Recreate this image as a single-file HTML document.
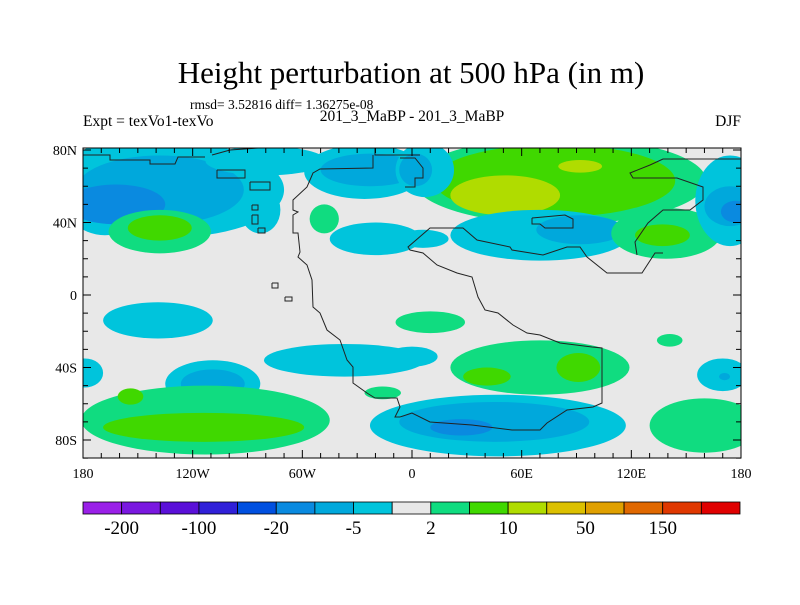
<!DOCTYPE html>
<html><head><meta charset="utf-8"><style>
body{margin:0;background:#fff;}
svg text{font-family:"Liberation Serif",serif;fill:#000;}
</style></head><body>
<svg width="800" height="600" viewBox="0 0 800 600" xmlns="http://www.w3.org/2000/svg">
<text x="411" y="83" font-size="31" text-anchor="middle">Height perturbation at 500 hPa (in m)</text>
<text x="190" y="109" font-size="13.5">rmsd= 3.52816 diff= 1.36275e-08</text>
<text x="83" y="126" font-size="15.5">Expt = texVo1-texVo</text>
<text x="412" y="121" font-size="15.5" text-anchor="middle">201_3_MaBP - 201_3_MaBP</text>
<text x="741" y="126" font-size="15.5" text-anchor="end">DJF</text>
<defs><clipPath id="mapclip"><rect x="83" y="148" width="658" height="310"/></clipPath></defs>
<rect x="83" y="148" width="658" height="310" fill="#e8e8e8"/>
<g id="fills" clip-path="url(#mapclip)"></g>
<g id="coast" clip-path="url(#mapclip)"></g>
<rect x="83" y="148" width="658" height="310" fill="none" stroke="#000" stroke-width="1"/>
<g id="ticks"></g>
<g id="cbar"></g>
</svg>
<script>
const NS="http://www.w3.org/2000/svg";
const levels=[-200,-150,-100,-50,-20,-10,-5,-2,2,5,10,20,50,100,150,200];
const colors=["#9a20e8","#7a18e0","#5a10d8","#3020d8","#0050e0","#0a8ae0","#00a8dc","#00c4dc","#e8e8e8","#10dc80","#40d800","#b0dc00","#dcc000","#e0a000","#e06800","#e03800","#e00000"];
const levelLabels=["-200","","-100","","-20","","-5","","2","","10","","50","","150",""];
// blobs: center lon, center lat, half-width lon, half-height lat, value (m)
const blobLon=[-130,-168,-138,-162,-138,-138,-80,-26,-23,-83,-48,-20,-139,-37,-109,-109,-179,-113,-114,-154,-16,81,78,51,92,7,2,70,92,6,139,137,174,174,177,10,141,0,70,91,41,170,171,47,45,27,160];
const blobLat=[58,58,58,50,35,37,74,68,69,47,42,31,-14,-36,-49,-49,-43,-69,-73,-56,-54,63,63,55,71,69,69,33,36,31,34,33,52,49,46,-15,-25,-34,-40,-40,-45,-44,-45,-72,-70,-73,-72];
const blobRLon=[60,25,46,27,28,17.5,33,33,27,11,8,25,30,44,26,17.5,10,68,55,7,10,80,66,30,12,16,9,49,24,14,30,15,19,14,8,19,7,14,49,12,13,14,3,70,52,17,30];
const blobRLat=[26,25,19,11,12,7,8,15,9,13,8,9,10,9,13,8,8,19,8,4.5,3.5,24,20,11,3.5,15,9,14,8,5,14,6,25,11,6,6,3.5,5.5,15,8,5,9,2,17,11,4.5,15];
const blobVal=[-3,-3,-7,-15,3,7,-3,-3,-7,-3,3,-3,-3,-3,-3,-7,-3,3,7,7,3,3,7,15,15,-3,-7,-3,-7,-3,3,7,-3,-7,-15,3,3,-3,3,7,7,-3,-7,-3,-7,-15,3];
const xTicksLon=[-180,-120,-60,0,60,120,180];
const xTickLabels=["180","120W","60W","0","60E","120E","180"];
const yTicksLat=[80,40,0,-40,-80];
const yTickLabels=["80N","40N","0","40S","80S"];
const X0=83,X1=741,LAT0=295,PPD=1.8125;
function x(lon){return X0+(lon+180)/360*(X1-X0);}
function y(lat){return LAT0-lat*PPD;}
function colorFor(v){let i=0;while(i<levels.length&&v>levels[i])i++;return colors[i];}
function mk(tag,attrs,parent){const e=document.createElementNS(NS,tag);for(const k in attrs)e.setAttribute(k,attrs[k]);parent.appendChild(e);return e;}
const fills=document.getElementById('fills');
for(let i=0;i<blobLon.length;i++){
  const e=mk('ellipse',{cx:x(blobLon[i]),cy:y(blobLat[i]),rx:blobRLon[i]*(X1-X0)/360,ry:blobRLat[i]*PPD,fill:colorFor(blobVal[i])},fills);
  
  
}
const coastLines=[
"83,155 110,155 110,160 150,160 150,164 175,164 178,157 205,157",
"212,155 230,150 258,148 353,148 353,146 375,146 375,155 420,155",
"373,155 373,168 320,169 313,173 307,187 293,200 293,210 298,212 293,215 293,233 298,233 300,252 298,257 307,265 312,280 313,307 320,313 327,330 340,340 347,360 353,367 353,383 367,393 375,398 397,398 400,407 395,417 400,417",
"400,417 412,413 430,422 472,425 512,430 540,430 547,423 567,410 593,407 602,403 602,348 592,347 560,343 540,335 527,333 513,325 498,313 485,310 478,297 472,277 457,273 437,265 423,253 410,250 408,247 430,228 463,228 477,240 510,247 512,250 543,255 567,247 580,247 587,257 607,273 642,273 655,253 663,253",
"637,255 635,242 648,223 663,210 690,210 703,200 703,187 677,178 633,178 630,173 650,165 663,159 743,159",
"400,158 415,158 423,168 423,178 415,178 415,187 405,187",
"532,218 565,215 573,219 573,228 545,228 540,224 532,224 532,218",
"252,205 258,205 258,210 252,210 252,205","252,215 258,215 258,224 252,224 252,215","258,228 265,228 265,233 258,233 258,228",
"272,283 278,283 278,288 272,288 272,283","285,297 292,297 292,301 285,301 285,297",
"217,170 245,170 245,178 217,178 217,170","250,182 270,182 270,190 250,190 250,182"
];
const coast=document.getElementById('coast');
coastLines.forEach(p=>{const e=mk('polyline',{points:p,fill:'none',stroke:'#222','stroke-width':1},coast);

});
const tk=document.getElementById('ticks');
for(let lon=-180;lon<=180;lon+=10){const L=(lon%60===0)?8:5;
 mk('line',{x1:x(lon),x2:x(lon),y1:458,y2:458-L,stroke:'#000'},tk);
 mk('line',{x1:x(lon),x2:x(lon),y1:148,y2:148+L,stroke:'#000'},tk);}
for(let lat=-90;lat<=80;lat+=10){const L=(lat%40===0)?8:5;
 mk('line',{x1:83,x2:83+L,y1:y(lat),y2:y(lat),stroke:'#000'},tk);
 mk('line',{x1:741,x2:741-L,y1:y(lat),y2:y(lat),stroke:'#000'},tk);}
xTicksLon.forEach((lon,i)=>{const t=mk('text',{x:x(lon),y:478,'font-size':14,'text-anchor':'middle'},tk);t.textContent=xTickLabels[i];

});
yTicksLat.forEach((lat,i)=>{const t=mk('text',{x:77,y:y(lat)+5,'font-size':14,'text-anchor':'end'},tk);t.textContent=yTickLabels[i];

});
const cb=document.getElementById('cbar');const CB0=83,CB1=740,bw=(CB1-CB0)/colors.length;
colors.forEach((c,i)=>{const r=mk('rect',{x:CB0+i*bw,y:502,width:bw,height:12,fill:c,stroke:'#000','stroke-width':0.8},cb);

});
levelLabels.forEach((s,i)=>{if(!s)return;const t=mk('text',{x:CB0+(i+1)*bw,y:534,'font-size':19,'text-anchor':'middle'},cb);t.textContent=s;

});
</script>
</body></html>
